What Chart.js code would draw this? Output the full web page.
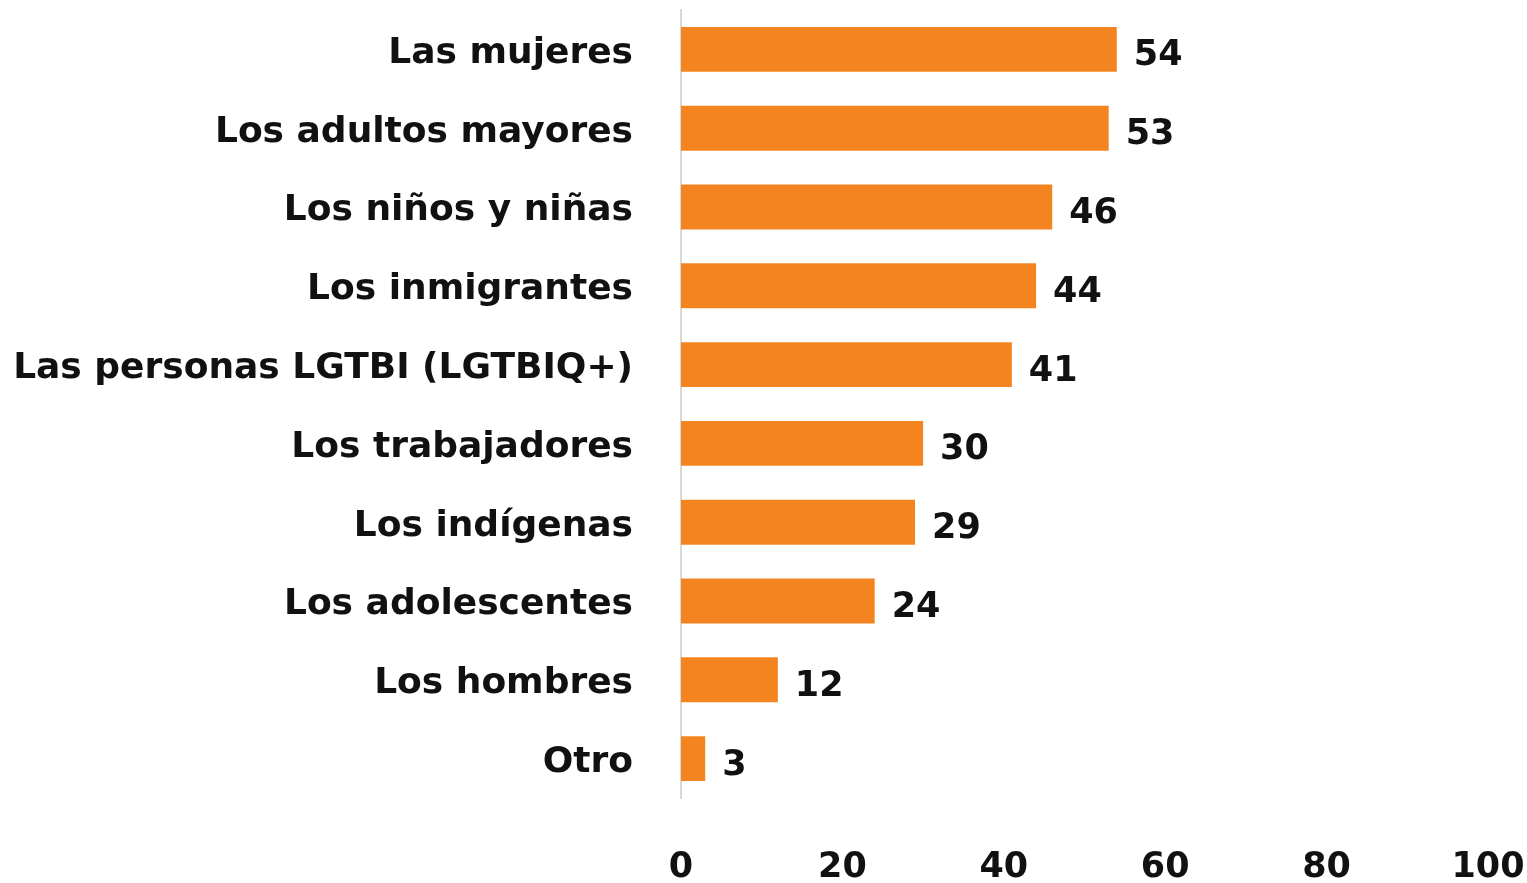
<!DOCTYPE html>
<html>
<head>
<meta charset="utf-8">
<script src="https://cdn.jsdelivr.net/npm/chart.js@4/dist/chart.umd.min.js"></script>
<style>
  html, body { margin: 0; padding: 0; background: #fff; }
  #wrap { width: 1527px; height: 883px; }
</style>
</head>
<body>
<div id="wrap"><canvas id="chart"></canvas></div>
<script>
const categories = [
  "Las mujeres",
  "Los adultos mayores",
  "Los niños y niñas",
  "Los inmigrantes",
  "Las personas LGTBI (LGTBIQ+)",
  "Los trabajadores",
  "Los indígenas",
  "Los adolescentes",
  "Los hombres",
  "Otro"
];
const values = [54, 53, 46, 44, 41, 30, 29, 24, 12, 3];
const xTicks = [0, 20, 40, 60, 80, 100];

const FONT = "'DejaVu Sans'";

// value labels at the end of each bar
const endLabels = {
  id: "endLabels",
  afterDatasetsDraw(chart) {
    const ctx = chart.ctx;
    const meta = chart.getDatasetMeta(0);
    ctx.save();
    ctx.font = "bold 35px " + FONT;
    ctx.fillStyle = "#111";
    ctx.textAlign = "left";
    ctx.textBaseline = "middle";
    meta.data.forEach((bar, i) => {
      ctx.fillText(String(values[i]), bar.x + 17, bar.y + 7);
    });
    ctx.restore();
  }
};

new Chart(document.getElementById("chart"), {
  type: "bar",
  data: {
    labels: categories,
    datasets: [{
      data: values,
      backgroundColor: "#F48420",
      barPercentage: 0.57,
      categoryPercentage: 1
    }]
  },
  options: {
    indexAxis: "y",
    responsive: true,
    maintainAspectRatio: false,
    animation: false,
    layout: { padding: { top: 10, right: 39, left: 0, bottom: 0 } },
    plugins: {
      legend: { display: false },
      tooltip: { enabled: false }
    },
    scales: {
      x: {
        min: 0,
        max: 100,
        afterBuildTicks: (axis) => { axis.ticks = xTicks.map(v => ({ value: v })); },
        afterFit: (axis) => {
          axis.height = 85;
          axis.paddingLeft = 0;
          axis.paddingRight = 0;
        },
        grid: { display: false, drawTicks: false },
        border: { display: false },
        ticks: {
          color: "#111",
          padding: 49,
          maxRotation: 0,
          font: { family: FONT, size: 35, weight: "bold" }
        }
      },
      y: {
        afterFit: (axis) => {
          axis.width = 681;
          axis.paddingTop = 0;
          axis.paddingBottom = 0;
        },
        grid: { display: false, drawTicks: false },
        border: { display: true, color: "#d9d9d9", width: 2 },
        ticks: {
          color: "#111",
          padding: 48,
          labelOffset: 4,
          font: { family: FONT, size: 36, weight: "bold" }
        }
      }
    }
  },
  plugins: [endLabels]
});
</script>
</body>
</html>
